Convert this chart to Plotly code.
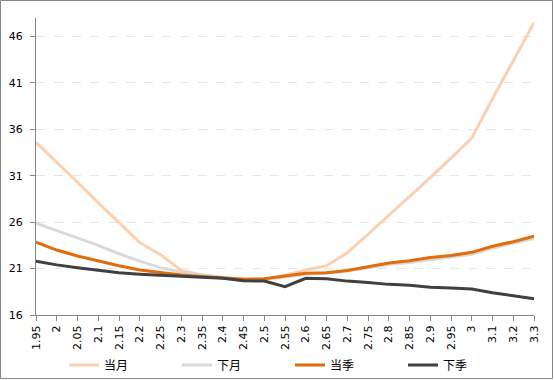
import plotly.graph_objects as go

categories = ["1.95", "2", "2.05", "2.1", "2.15", "2.2", "2.25", "2.3", "2.35", "2.4",
              "2.45", "2.5", "2.55", "2.6", "2.65", "2.7", "2.75", "2.8", "2.85", "2.9",
              "2.95", "3", "3.1", "3.2", "3.3"]

dangyue = [34.6, 32.5, 30.3, 28.1, 26.0, 23.8, 22.5, 20.8, 20.3, 20.05,
           19.7, 19.8, 20.3, 20.85, 21.3, 22.7, 24.7, 26.7, 28.7, 30.8,
           32.9, 35.05, 39.3, 43.4, 47.5]
xiayue = [25.9, 25.1, 24.3, 23.5, 22.6, 21.8, 21.1, 20.6, 20.3, 20.05,
          19.9, 19.85, 20.1, 20.4, 20.5, 20.75, 21.1, 21.45, 21.65, 21.95,
          22.2, 22.55, 23.2, 23.7, 24.25]
dangji = [23.85, 23.0, 22.35, 21.8, 21.3, 20.85, 20.55, 20.3, 20.15, 20.0,
          19.85, 19.9, 20.2, 20.5, 20.55, 20.8, 21.2, 21.6, 21.85, 22.2,
          22.4, 22.75, 23.4, 23.9, 24.5]
xiaji = [21.8, 21.4, 21.1, 20.85, 20.55, 20.4, 20.3, 20.2, 20.1, 19.95,
         19.7, 19.65, 19.05, 19.95, 19.9, 19.65, 19.5, 19.3, 19.2, 19.0,
         18.9, 18.8, 18.4, 18.05, 17.75]

series = [
    ("当月", dangyue, "#FAD0B0"),
    ("下月", xiayue, "#D9D9D9"),
    ("当季", dangji, "#E36C0A"),
    ("下季", xiaji, "#404040"),
]

y_ticks = [16, 21, 26, 31, 36, 41, 46]

fig = go.Figure()
for name, vals, color in series:
    fig.add_trace(go.Scatter(x=categories, y=vals, mode="lines", name=name,
                             line=dict(color=color, width=3)))

W, H = 554, 380
ml, mr, mt, mb = 36, 20, 18, 65
pw, ph = W - ml - mr, H - mt - mb

fig.update_layout(
    width=W, height=H,
    margin=dict(l=ml, r=mr, t=mt, b=mb, autoexpand=False),
    paper_bgcolor="white", plot_bgcolor="white",
    font=dict(family="DejaVu Sans, Noto Sans CJK SC", size=11, color="#000000"),
    showlegend=True,
    legend=dict(orientation="h", xref="container", yref="container",
                x=64 / W, xanchor="left", y=(H - 365) / H, yanchor="middle",
                font=dict(family="Noto Sans CJK SC", size=12, color="#000000"),
                itemwidth=30, tracegroupgap=0, entrywidthmode="pixels", entrywidth=68,
                bgcolor="rgba(0,0,0,0)"),
    xaxis=dict(type="category", showline=True, linecolor="#868686", linewidth=1,
               ticks="outside", ticklen=5, tickcolor="#868686", tickangle=-90,
               showgrid=False, zeroline=False, range=[0, 24], automargin=False,
               tickfont=dict(size=11, family="DejaVu Sans")),
    yaxis=dict(range=[16, 48], tickvals=y_ticks, showline=True, linecolor="#868686",
               linewidth=1, ticks="outside", ticklen=5, tickcolor="#868686",
               showgrid=True, gridcolor="#E6E6E6", griddash="dash", gridwidth=1,
               zeroline=False, automargin=False, ticklabelstandoff=5,
               tickfont=dict(size=11, family="DejaVu Sans")),
    shapes=[dict(type="rect", xref="paper", yref="paper",
                 x0=-(ml - 0.5) / pw, x1=1 + (mr - 1.5) / pw,
                 y0=-(mb - 1.5) / ph, y1=1 + (mt - 0.5) / ph,
                 line=dict(color="#868686", width=1), fillcolor="rgba(0,0,0,0)",
                 layer="below")],
)

fig.write_html("out.html", config={"displayModeBar": False},
               post_script="document.body.style.margin='0';")
